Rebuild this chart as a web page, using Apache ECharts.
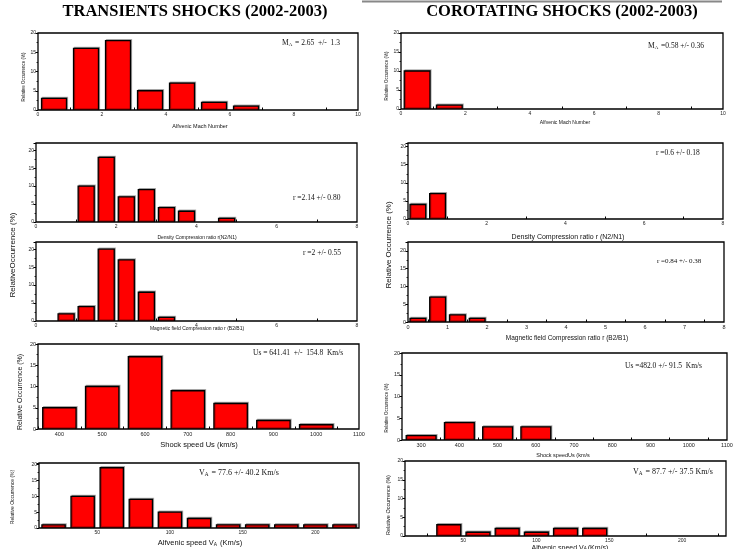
<!DOCTYPE html>
<html><head><meta charset="utf-8">
<script src="https://cdn.jsdelivr.net/npm/echarts@6/dist/echarts.min.js"></script>
<style>html,body{margin:0;padding:0;background:#fff}#c{width:739px;height:549px}</style>
</head><body><div id="c"></div>
<script>
// ---------------- data ----------------
const titleLeft = 'TRANSIENTS SHOCKS (2002-2003)';
const titleRight = 'COROTATING SHOCKS (2002-2003)';

// Alfvenic Mach number (bin width 1)
const machTrCenters = [0.5, 1.5, 2.5, 3.5, 4.5, 5.5, 6.5];
const machTrValues  = [3, 16, 18, 5, 7, 2, 1];
const machCoCenters = [0.5, 1.5];
const machCoValues  = [10, 1];
const machTickLabels = [0, 2, 4, 6, 8, 10];
const machMinorTicks = [1, 3, 5, 7, 9];

// Density compression ratio (bin width 0.5)
const densTrCenters = [1.25, 1.75, 2.25, 2.75, 3.25, 3.75, 4.75];
const densTrValues  = [10, 18, 7, 9, 4, 3, 1];
const densCoCenters = [0.25, 0.75];
const densCoValues  = [4, 7];
const ratioTickLabels = [0, 2, 4, 6, 8];
const ratioMinorTicks = [1, 3, 5, 7];

// Magnetic field compression ratio (bin width 0.5)
const magTrCenters = [0.75, 1.25, 1.75, 2.25, 2.75, 3.25];
const magTrValues  = [2, 4, 20, 17, 8, 1];
const magCoCenters = [0.25, 0.75, 1.25, 1.75];
const magCoValues  = [1, 7, 2, 1];
const magCoTickLabels = [0, 1, 2, 3, 4, 5, 6, 7, 8];
const magCoMinorTicks = [0.5, 1.5, 2.5, 3.5, 4.5, 5.5, 6.5, 7.5];

// Shock speed (bin width 100 km/s)
const speedTrCenters = [400, 500, 600, 700, 800, 900, 1000];
const speedTrValues  = [5, 10, 17, 9, 6, 2, 1];
const speedTrTickLabels = [400, 500, 600, 700, 800, 900, 1000, 1100];
const speedCoCenters = [300, 400, 500, 600];
const speedCoValues  = [1, 4, 3, 3];
const speedCoTickLabels = [300, 400, 500, 600, 700, 800, 900, 1000, 1100];
const speedMinorTicks = [350, 450, 550, 650, 750, 850, 950, 1050];

// Alfvenic speed (bin width 20 km/s)
const vaTrCenters = [20, 40, 60, 80, 100, 120, 140, 160, 180, 200, 220];
const vaTrValues  = [1, 10, 19, 9, 5, 3, 1, 1, 1, 1, 1];
const vaCoCenters = [40, 60, 80, 100, 120, 140];
const vaCoValues  = [3, 1, 2, 1, 2, 2];
const vaTickLabels = [50, 100, 150, 200];
const vaMinorTicks = [25, 75, 125, 175, 225];

// annotations
const noteMachTr = 'M{s|A} = 2.65  +/-  1.3';
const noteMachCo = 'M{s|A} =0.58 +/- 0.36';
const noteDensTr = 'r =2.14 +/- 0.80';
const noteDensCo = 'r =0.6 +/- 0.18';
const noteMagTr  = 'r =2 +/- 0.55';
const noteMagCo  = 'r =0.84 +/- 0.38';
const noteSpeedTr = 'Us = 641.41  +/-  154.8  Km/s';
const noteSpeedCo = 'Us =482.0 +/- 91.5  Km/s';
const noteVaTr = 'V{s|A} = 77.6 +/- 40.2 Km/s';
const noteVaCo = 'V{s|A} = 87.7 +/- 37.5 Km/s';

// ---------------- layout / style ----------------
const SANS = 'Liberation Sans, Arial, sans-serif';
const SERIF = 'Liberation Serif, Times New Roman, serif';

const panels = [
  {g:[38,33,320,77],  xr:[0,10],    ymax:20,   c:machTrCenters,  v:machTrValues,  bw:1,   fr:0.78, lab:machTickLabels,   tk:machMinorTicks,  fs:5},
  {g:[401,33,322,76], xr:[0,10],    ymax:20,   c:machCoCenters,  v:machCoValues,  bw:1,   fr:0.80, lab:machTickLabels,   tk:machMinorTicks,  fs:5},
  {g:[36,143,321,79], xr:[0,8],     ymax:22,   c:densTrCenters,  v:densTrValues,  bw:0.5, fr:0.80, lab:ratioTickLabels,  tk:ratioMinorTicks, fs:5},
  {g:[408,143,315,76],xr:[0,8],     ymax:21,   c:densCoCenters,  v:densCoValues,  bw:0.5, fr:0.80, lab:ratioTickLabels,  tk:ratioMinorTicks, fs:5},
  {g:[36,242,321,79], xr:[0,8],     ymax:22,   c:magTrCenters,   v:magTrValues,   bw:0.5, fr:0.80, lab:ratioTickLabels,  tk:ratioMinorTicks, fs:5},
  {g:[408,242,316,80],xr:[0,8],     ymax:22.5, c:magCoCenters,   v:magCoValues,   bw:0.5, fr:0.80, lab:magCoTickLabels,  tk:magCoMinorTicks, fs:5.5},
  {g:[38,344,321,85], xr:[350,1100],ymax:20,   c:speedTrCenters, v:speedTrValues, bw:100, fr:0.78, lab:speedTrTickLabels,tk:speedMinorTicks, fs:5.5},
  {g:[402,353,325,87],xr:[250,1100],ymax:20,   c:speedCoCenters, v:speedCoValues, bw:100, fr:0.78, lab:speedCoTickLabels,tk:speedMinorTicks, fs:5.5},
  {g:[39,463,320,65], xr:[10,230],  ymax:20.5, c:vaTrCenters,    v:vaTrValues,    bw:20,  fr:0.80, lab:vaTickLabels,     tk:vaMinorTicks,    fs:5},
  {g:[405,461,321,75],xr:[10,230],  ymax:20,   c:vaCoCenters,    v:vaCoValues,    bw:20,  fr:0.82, lab:vaTickLabels,     tk:vaMinorTicks,    fs:5}
];

function makeRender(bw, fr) {
  return function (params, api) {
    const c = api.value(0), v = api.value(1);
    const a = api.coord([c - bw * fr / 2, v]);
    const b = api.coord([c + bw * fr / 2, 0]);
    return {
      type: 'rect',
      shape: {x: a[0], y: a[1], width: b[0] - a[0], height: b[1] - a[1]},
      style: {fill: '#ff0000', stroke: '#000', lineWidth: 1.3,
              shadowColor: 'rgba(0,0,0,0.3)', shadowOffsetX: 1, shadowOffsetY: -1, shadowBlur: 0}
    };
  };
}

const plain = v => String(v);
const grid = [], xAxis = [], yAxis = [], series = [];
panels.forEach((p, i) => {
  grid.push({left: p.g[0], top: p.g[1], width: p.g[2], height: p.g[3],
             show: true, borderColor: '#000', borderWidth: 1.3, backgroundColor: 'transparent'});
  xAxis.push({
    type: 'value', gridIndex: i, min: p.xr[0], max: p.xr[1],
    axisLine: {show: false},
    splitLine: {show: false},
    axisTick: {show: true, inside: true, length: 2.5, customValues: p.tk, lineStyle: {color: '#000', width: 1}},
    axisLabel: {customValues: p.lab, formatter: plain, fontSize: p.fs, color: '#222', margin: 2.5, fontFamily: SANS}
  });
  yAxis.push({
    type: 'value', gridIndex: i, min: 0, max: p.ymax, interval: 5,
    axisLine: {show: false},
    splitLine: {show: false},
    axisTick: {show: true, inside: false, length: 2.5, lineStyle: {color: '#000', width: 1}},
    minorTick: {show: true, splitNumber: 2, length: 1.5, lineStyle: {color: '#000', width: 0.8}},
    axisLabel: {formatter: plain, fontSize: p.fs, color: '#222', margin: 2, fontFamily: SANS,
                showMaxLabel: p.ymax % 5 === 0}
  });
  series.push({
    type: 'custom', coordinateSystem: 'cartesian2d', xAxisIndex: i, yAxisIndex: i,
    encode: {x: 0, y: 1}, clip: true, silent: true,
    renderItem: makeRender(p.bw, p.fr),
    data: p.c.map((c, k) => [c, p.v[k]])
  });
});

function txt(x, y, text, size, opts) {
  opts = opts || {};
  return {
    type: 'text', x: x, y: y, rotation: opts.rot ? Math.PI / 2 : 0, silent: true,
    style: {
      text: text, fontSize: size, fontFamily: opts.font || SANS, fontWeight: opts.bold ? 'bold' : 'normal',
      fill: opts.color || '#111', align: opts.align || 'center', verticalAlign: 'middle',
      rich: {s: {fontSize: size * 0.65, fontFamily: opts.font || SANS, fill: opts.color || '#111', verticalAlign: 'bottom', padding: [0, 1, 0, 0]}}
    }
  };
}

const graphic = [
  {type: 'line', silent: true, shape: {x1: 362, y1: 1.5, x2: 722, y2: 1.5}, style: {stroke: '#888', lineWidth: 2}},
  txt(195, 12, titleLeft, 16.5, {font: SERIF, bold: true, color: '#000'}),
  txt(562, 12, titleRight, 16.5, {font: SERIF, bold: true, color: '#000'}),

  // annotations
  txt(282, 43, noteMachTr, 7.5, {font: SERIF, align: 'left'}),
  txt(648, 46, noteMachCo, 7.5, {font: SERIF, align: 'left'}),
  txt(293, 198, noteDensTr, 7.5, {font: SERIF, align: 'left'}),
  txt(656, 153, noteDensCo, 7.5, {font: SERIF, align: 'left'}),
  txt(303, 253, noteMagTr, 7.5, {font: SERIF, align: 'left'}),
  txt(657, 261, noteMagCo, 7, {font: SERIF, align: 'left'}),
  txt(253, 353, noteSpeedTr, 7.5, {font: SERIF, align: 'left'}),
  txt(625, 366, noteSpeedCo, 7.5, {font: SERIF, align: 'left'}),
  txt(199, 473, noteVaTr, 8, {font: SERIF, align: 'left'}),
  txt(633, 472, noteVaCo, 8, {font: SERIF, align: 'left'}),

  // x axis names
  txt(200, 126, 'Alfvenic Mach Number', 5.5),
  txt(565, 122.5, 'Alfvenic Mach Number', 5),
  txt(197, 237.5, 'Density Compression ratio r(N2/N1)', 5),
  txt(568, 237.5, 'Density Compression ratio r (N2/N1)', 7),
  txt(197, 329, 'Magnetic field Compression ratio r (B2/B1)', 5),
  txt(567, 338, 'Magnetic field Compression ratio r (B2/B1)', 6.5),
  txt(199, 445, 'Shock speed Us (km/s)', 7.5),
  txt(563, 455, 'Shock speedUs (km/s', 5.5),
  txt(200, 543, 'Alfvenic speed V{s|A} (Km/s)', 7.5),
  txt(570, 548, 'Alfvenic speed V{s|A}(Km/s)', 7),

  // y axis names
  txt(24, 77, 'Relative Occurrence (%)', 4.5, {rot: true}),
  txt(387, 76, 'Relative Occurrence (%)', 4.5, {rot: true}),
  txt(13, 255, 'RelativeOccurrence (%)', 8, {rot: true}),
  txt(389, 245, 'Relative Occurrence (%)', 8, {rot: true}),
  txt(20, 392, 'Relative Occurrence (%)', 7, {rot: true}),
  txt(387, 408, 'Relative Occurrence (%)', 4.5, {rot: true}),
  txt(13, 497, 'Relative Occurrence (%)', 5, {rot: true}),
  txt(388, 505, 'Relative Occurrence (%)', 5.5, {rot: true})
];

const chart = echarts.init(document.getElementById('c'), null, {renderer: 'canvas'});
chart.setOption({
  animation: false,
  backgroundColor: '#fff',
  grid: grid, xAxis: xAxis, yAxis: yAxis, series: series, graphic: graphic
});
</script>
</body></html>
